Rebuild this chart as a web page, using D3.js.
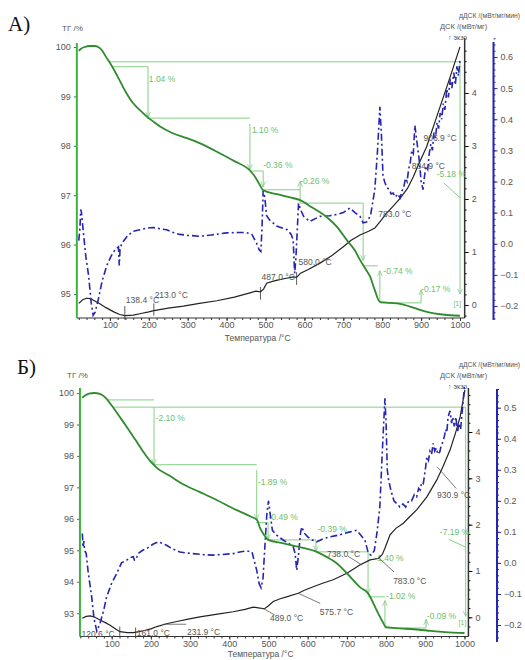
<!DOCTYPE html>
<html>
<head>
<meta charset="utf-8">
<script src="https://cdn.jsdelivr.net/npm/d3@7"></script>
<style>
  body { margin: 0; background: #fff; }
  text { font-family: "Liberation Sans", Arial, sans-serif; }
</style>
</head>
<body>
<div id="chart"></div>
<script>
// ---- data: [temperature °C, value] ----
var tempTicks = [100, 200, 300, 400, 500, 600, 700, 800, 900, 1000];

// panel А
var tgA = [[20,99.92],[25,99.96],[35,100.0],[50,100.02],[60,100.02],[70,100.0],[80,99.93],[90,99.8],[100,99.68],[120,99.4],[140,99.1],[160,98.86],[180,98.7],[195,98.59],[210,98.5],[229,98.39],[260,98.26],[300,98.15],[332,98.05],[380,97.86],[420,97.69],[460,97.5],[475,97.35],[486,97.2],[494,97.1],[530,97.02],[560,96.96],[589,96.9],[620,96.75],[657,96.56],[685,96.35],[709,96.09],[730,95.88],[743,95.69],[760,95.47],[769,95.35],[780,95.1],[794,94.84],[820,94.82],[846,94.8],[870,94.75],[897,94.68],[920,94.63],[949,94.59],[975,94.57],[1000,94.56]];
var dscA = [[20,0.03],[30,0.10],[40,0.127],[50,0.12],[60,0.08],[75,0.02],[90,-0.05],[110,-0.13],[125,-0.18],[139,-0.2],[160,-0.19],[180,-0.16],[200,-0.13],[213,-0.107],[250,-0.06],[289,-0.02],[330,0.03],[375,0.08],[420,0.15],[460,0.23],[475,0.26],[487,0.25],[495,0.3],[503,0.41],[520,0.45],[550,0.5],[571,0.53],[580,0.52],[590,0.6],[610,0.67],[640,0.79],[670,0.93],[700,1.1],[720,1.22],[743,1.32],[765,1.39],[781,1.45],[795,1.58],[811,1.73],[830,1.88],[846,2.01],[865,2.2],[880,2.42],[895,2.68],[914,2.98],[940,3.55],[970,4.2],[1000,4.87]];
var ddscA = [[20,0.01],[23,0.05],[25,0.11],[27,0.10],[30,0.06],[38,-0.04],[45,-0.10],[52,-0.19],[57,-0.23],[62,-0.22],[70,-0.18],[80,-0.12],[92,-0.07],[103,-0.04],[113,-0.02],[122,-0.01],[124,-0.07],[126,-0.02],[130,0.0],[145,0.025],[160,0.04],[177,0.045],[195,0.05],[211,0.052],[230,0.048],[246,0.045],[265,0.035],[280,0.03],[300,0.027],[332,0.024],[360,0.028],[400,0.035],[430,0.036],[451,0.036],[465,0.03],[477,0.002],[484,-0.02],[488,-0.025],[491,0.05],[494,0.17],[498,0.15],[503,0.09],[510,0.077],[530,0.056],[556,0.045],[566,0.03],[571,0.013],[575,-0.095],[578,-0.05],[585,0.13],[590,0.11],[598,0.088],[614,0.072],[640,0.088],[665,0.09],[683,0.094],[700,0.10],[717,0.115],[730,0.10],[743,0.088],[751,0.067],[760,0.07],[770,0.09],[781,0.174],[788,0.30],[794,0.44],[798,0.35],[802,0.22],[806,0.2],[812,0.18],[818,0.175],[823,0.16],[828,0.163],[834,0.15],[840,0.16],[846,0.147],[851,0.17],[855,0.18],[860,0.21],[864,0.2],[868,0.24],[872,0.26],[876,0.3],[880,0.29],[884,0.38],[888,0.34],[892,0.3],[896,0.26],[900,0.2],[905,0.174],[909,0.22],[913,0.25],[917,0.24],[921,0.29],[925,0.32],[929,0.3],[933,0.357],[937,0.34],[941,0.39],[945,0.37],[949,0.42],[953,0.4],[957,0.45],[961,0.43],[966,0.497],[970,0.47],[975,0.53],[979,0.5],[984,0.55],[988,0.51],[992,0.57],[996,0.54],[1000,0.59]];

// panel Б
var tgB = [[25,99.85],[32,99.92],[42,99.98],[55,100.0],[70,99.97],[86,99.83],[100,99.6],[120,99.25],[138,98.93],[160,98.52],[180,98.14],[198,97.84],[215,97.62],[249,97.36],[282,97.1],[325,96.85],[369,96.59],[410,96.33],[453,96.08],[471,95.96],[478,95.72],[488,95.5],[499,95.33],[538,95.22],[580,95.1],[623,94.95],[648,94.79],[674,94.59],[700,94.27],[733,93.83],[754,93.63],[776,93.09],[790,92.75],[800,92.56],[835,92.52],[870,92.49],[904,92.45],[950,92.4],[1000,92.37]];
var dscB = [[25,-0.02],[35,0.02],[45,0.03],[55,0.01],[70,-0.06],[85,-0.12],[96,-0.17],[110,-0.25],[121,-0.31],[140,-0.33],[155,-0.33],[170,-0.31],[181,-0.29],[200,-0.25],[215,-0.2],[240,-0.14],[266,-0.09],[295,-0.04],[325,0.01],[370,0.07],[410,0.12],[440,0.17],[461,0.22],[478,0.2],[489,0.18],[500,0.25],[512,0.34],[530,0.4],[546,0.44],[576,0.52],[590,0.58],[614,0.66],[640,0.74],[665,0.81],[700,0.95],[733,1.13],[759,1.24],[780,1.27],[790,1.35],[797,1.49],[810,1.78],[825,1.92],[844,2.03],[860,2.17],[878,2.32],[904,2.6],[929,2.96],[945,3.25],[963,3.61],[976,3.95],[989,4.33],[1001,4.91]];
var ddscB = [[25,0.095],[27,0.05],[29,0.07],[31,0.04],[35,0.03],[40,-0.03],[49,-0.11],[55,-0.18],[62,-0.22],[70,-0.196],[80,-0.15],[87,-0.11],[100,-0.065],[113,-0.034],[125,0.0],[138,0.009],[150,0.018],[155,0.02],[158,0.009],[162,0.01],[167,0.03],[178,0.04],[189,0.046],[205,0.06],[219,0.068],[230,0.062],[240,0.057],[255,0.045],[274,0.035],[290,0.032],[308,0.03],[330,0.027],[359,0.025],[380,0.027],[410,0.03],[430,0.036],[444,0.039],[458,0.035],[463,0.01],[470,-0.024],[476,-0.066],[481,-0.08],[486,-0.05],[492,0.08],[496,0.16],[500,0.2],[504,0.16],[510,0.105],[520,0.09],[538,0.073],[555,0.06],[563,0.052],[568,0.03],[572,-0.024],[576,0.02],[582,0.1],[585,0.116],[592,0.095],[600,0.084],[610,0.075],[623,0.068],[640,0.078],[657,0.084],[680,0.09],[708,0.1],[725,0.105],[735,0.09],[746,0.073],[755,0.03],[762,0.025],[770,0.04],[777,0.1],[784,0.18],[790,0.35],[797,0.53],[800,0.45],[803,0.3],[806,0.27],[812,0.235],[820,0.2],[828,0.19],[835,0.18],[843,0.19],[850,0.18],[858,0.2],[865,0.2],[872,0.22],[878,0.213],[883,0.24],[887,0.235],[891,0.26],[895,0.256],[900,0.3],[904,0.342],[908,0.33],[912,0.36],[916,0.35],[920,0.385],[924,0.36],[928,0.37],[932,0.35],[937,0.358],[941,0.38],[945,0.39],[949,0.41],[952,0.43],[955,0.42],[958,0.47],[963,0.49],[967,0.45],[970,0.47],[974,0.44],[978,0.47],[982,0.42],[986,0.45],[990,0.43],[995,0.5],[1000,0.57]];

// step annotations (TG units): horizontal [t1, t2, tg], vertical [t, tgFrom, tgTo], labels [t, tg, text]
var hLinesA = [[100,1000,99.70],[108,198,99.60],[195,460,98.56],[460,494,97.49],[494,589,97.11],[589,751,96.84],[751,789,95.57],[794,900,94.82]];
var vLinesA = [[198,99.60,98.58],[460,98.44,97.52],[494,97.49,97.17],[589,96.84,97.28],[751,96.84,95.68],[794,94.84,95.47],[900,94.82,95.08],[1000,99.70,95.0]];
var stepLabelsA = [[200,99.30,"1.04 %"],[465,98.26,"1.10 %"],[494,97.56,"-0.36 %"],[589,97.22,"-0.26 %"],[803,95.4,"-0.74 %"],[900,95.05,"-0.17 %"],[940,97.36,"-5.18 %"],[983,94.76,"[1]"]];
var hLinesB = [[88,208,99.78],[103,1004,99.55],[208,470,97.72],[468,499,95.88],[499,621,95.33],[621,754,94.95],[754,797,93.52],[797,902,92.53]];
var vLinesB = [[208,99.55,97.74],[470,97.55,95.98],[499,95.88,95.35],[621,95.33,94.97],[754,94.95,93.62],[797,92.53,93.4],[902,92.53,92.8],[1003,99.55,92.9]];
var stepLabelsB = [[212,99.12,"-2.10 %"],[473,97.06,"-1.89 %"],[500,95.97,"-0.49 %"],[625,95.57,"-0.39 %"],[770,94.66,"-1.40 %"],[800,93.45,"-1.02 %"],[904,92.82,"-0.09 %"],[937,95.5,"-7.19 %"],[985,92.64,"[1]"]];

// peak labels on the DSC curve: [t, dsc, text]
var peakLabelsA = [[141,0.04,"138.4 °C"],[215,0.13,"213.0 °C"],[490,0.47,"487.0 °C"],[585,0.75,"580.0 °C"],[790,1.66,"783.0 °C"],[876,2.57,"884.9 °C"],[906,3.1,"906.9 °C"]];
var peakTicksA = [[138.4,-0.28,-0.02],[213,-0.2,0.03],[487,0.1,0.34],[580,0.38,0.62]];
var peakLabelsB = [[23,-0.42,"120.6 °C"],[164,-0.41,"161.0 °C"],[292,-0.39,"231.9 °C"],[504,-0.07,"489.0 °C"],[631,0.06,"575.7 °C"],[649,1.3,"738.0 °C"],[818,0.72,"783.0 °C"],[930,2.58,"930.9 °C"]];
var pointersB = [[232,-0.15,290,-0.15],[489,0.18,516,0.05],[575.7,0.52,632,0.3],[703,1.32,738,1.13],[783,1.27,820,0.98],[930,3.25,979,2.78]];

var W = 525, H = 660;
var svg = d3.select("#chart").append("svg").attr("width", W).attr("height", H);

var defs = svg.append("defs");
defs.append("marker").attr("id", "arr").attr("viewBox", "0 0 10 10")
  .attr("refX", 9).attr("refY", 5).attr("markerWidth", 6).attr("markerHeight", 6)
  .attr("orient", "auto-start-reverse")
  .append("path").attr("d", "M0,1L9,5L0,9").attr("fill", "none").attr("stroke", "#7cc77c").attr("stroke-width", 1.2);

var GREEN = "#2e8b2e", LGREEN = "#86cf86", TGREEN = "#6cbf6c", BLUE = "#2525b0";

function panel(c) {
  var g = svg.append("g");
  var x = d3.scaleLinear().domain([0, 1000]).range(c.xr);
  var yT = d3.scaleLinear().domain(c.tgDom).range(c.tgR);
  var yD = d3.scaleLinear().domain([0, 4]).range(c.dscR);
  var yB = d3.scaleLinear().domain(c.bDom).range(c.bR);
  var xl = x(c.tMin), xr = x(c.tMax);

  // x axis
  var xa = g.append("g").attr("transform", "translate(0," + c.bottom + ")");
  xa.append("line").attr("x1", xl).attr("x2", xr).attr("stroke", "#333").attr("stroke-width", 1.2);
  xa.call(d3.axisBottom(x).tickValues(d3.range(20, 1001, 20)).tickSize(2).tickFormat(""));
  xa.append("g").call(d3.axisBottom(x).tickValues(tempTicks).tickSize(3).tickPadding(1).tickFormat(d3.format("d")));
  xa.selectAll(".domain").remove();
  xa.selectAll("line").attr("stroke", "#333");
  xa.selectAll("text").attr("fill", "#555").style("font-size", "9px");
  g.append("text").attr("x", x(480)).attr("y", c.xTitleY).attr("text-anchor", "middle")
    .attr("fill", "#555").style("font-size", "8.5px").text("Температура /°C");

  // TG axis (left)
  var la = g.append("g").attr("transform", "translate(" + xl + ",0)")
    .call(d3.axisLeft(yT).tickValues(c.tgTicks).tickSize(3).tickPadding(3).tickFormat(d3.format("d")));
  la.select(".domain").remove();
  la.append("line").attr("y1", c.top).attr("y2", c.bottom).attr("stroke", "#3cb43c").attr("stroke-width", 2);
  la.selectAll(".tick line").attr("stroke", "#666");
  la.selectAll("text").attr("fill", "#555").style("font-size", "9px");
  g.append("text").attr("x", c.tgTitle[0]).attr("y", c.tgTitle[1]).attr("fill", "#555").style("font-size", "8px").text("ТГ /%");

  // DSC axis (right, black)
  var ra = g.append("g").attr("transform", "translate(" + xr + ",0)");
  ra.call(d3.axisRight(yD).tickValues(d3.range(-0.2, 4.81, 0.2)).tickSize(2).tickFormat(""));
  ra.append("g").call(d3.axisRight(yD).tickValues([0, 1, 2, 3, 4]).tickSize(4).tickPadding(3).tickFormat(d3.format("d")));
  ra.selectAll(".domain").remove();
  ra.append("line").attr("y1", c.rTop).attr("y2", c.bottom).attr("stroke", "#333").attr("stroke-width", 1.5);
  ra.selectAll("text").attr("fill", "#555").style("font-size", "9px");

  // dDSC axis (far right, blue)
  var ba = g.append("g").attr("transform", "translate(" + c.bX + ",0)");
  ba.call(d3.axisRight(yB).tickValues(d3.range(c.bDom[0] - 0.04, c.bDom[1] + 0.07, 0.02)).tickSize(2).tickFormat(""));
  ba.append("g").call(d3.axisRight(yB).tickValues(c.bTicks).tickSize(4).tickPadding(3).tickFormat(d3.format(".1f")));
  ba.selectAll(".domain").remove();
  ba.selectAll("line").attr("stroke", BLUE);
  ba.append("line").attr("y1", c.bTop).attr("y2", c.bBottom).attr("stroke", BLUE).attr("stroke-width", 2);
  ba.selectAll("text").attr("fill", "#555").style("font-size", "9px");

  g.append("text").attr("x", c.hdr[0]).attr("y", c.hdr[1]).attr("fill", "#555").style("font-size", "6.8px").text("дДСК /(мВт/мг/мин)");
  g.append("text").attr("x", c.hdr[0] - 19).attr("y", c.hdr[1] + 11).attr("fill", "#555").style("font-size", "7.5px").text("ДСК /(мВт/мг)");
  g.append("text").attr("x", c.hdr[0] - 11).attr("y", c.hdr[1] + 22).attr("fill", "#555").style("font-size", "7px").text("↑ экзо");

  g.append("text").attr("x", c.letter[0]).attr("y", c.letter[1]).attr("fill", "#111")
    .style("font-family", "'Liberation Serif', serif").style("font-size", "21px").text(c.name);

  // step reference lines
  var sg = g.append("g").attr("stroke", LGREEN).attr("stroke-width", 1).attr("fill", "none");
  c.hLines.forEach(function (h) {
    sg.append("line").attr("x1", x(h[0])).attr("x2", x(h[1])).attr("y1", yT(h[2])).attr("y2", yT(h[2]));
  });
  c.vLines.forEach(function (v) {
    sg.append("line").attr("x1", x(v[0])).attr("x2", x(v[0])).attr("y1", yT(v[1])).attr("y2", yT(v[2]))
      .attr("marker-end", "url(#arr)");
  });
  c.pointer.forEach(function (p) {
    sg.append("line").attr("x1", x(p[0])).attr("y1", yT(p[1])).attr("x2", x(p[2])).attr("y2", yT(p[3]));
  });
  c.stepLabels.forEach(function (s) {
    g.append("text").attr("x", x(s[0])).attr("y", yT(s[1])).attr("fill", TGREEN)
      .style("font-size", s[2] === "[1]" ? "7px" : "8.5px").text(s[2]);
  });

  // curves
  var line = function (ys) {
    return d3.line().x(function (d) { return x(d[0]); }).y(function (d) { return ys(d[1]); });
  };
  g.append("path").datum(c.dscData).attr("d", line(yD)).attr("fill", "none").attr("stroke", "#222").attr("stroke-width", 1.2);
  g.append("path").datum(c.ddscData).attr("d", line(yB)).attr("fill", "none").attr("stroke", BLUE)
    .attr("stroke-width", 1.6).attr("stroke-dasharray", "7,3,2,3");
  g.append("path").datum(c.tgData).attr("d", line(yT).curve(d3.curveMonotoneX)).attr("fill", "none")
    .attr("stroke", GREEN).attr("stroke-width", 1.8);

  // peak markers on DSC
  c.peakTicks.forEach(function (p) {
    g.append("line").attr("x1", x(p[0])).attr("x2", x(p[0])).attr("y1", yD(p[1])).attr("y2", yD(p[2]))
      .attr("stroke", "#333").attr("stroke-width", 0.8);
  });
  c.pointers.forEach(function (p) {
    g.append("line").attr("x1", x(p[0])).attr("y1", yD(p[1])).attr("x2", x(p[2])).attr("y2", yD(p[3]))
      .attr("stroke", "#555").attr("stroke-width", 0.8);
  });
  c.peakLabels.forEach(function (p) {
    g.append("text").attr("x", x(p[0])).attr("y", yD(p[1])).attr("fill", "#555").style("font-size", "8.5px").text(p[2]);
  });
}

panel({
  name: "А)", letter: [8, 31], xr: [71, 460], tMin: 15, tMax: 1012, top: 43, rTop: 38, bottom: 318, xTitleY: 341,
  tgDom: [95, 100], tgR: [294, 47], tgTicks: [95, 96, 97, 98, 99, 100], tgTitle: [62, 31],
  dscR: [305, 93], bDom: [-0.2, 0.6], bR: [306, 57], bTicks: [-0.2, -0.1, 0, 0.1, 0.2, 0.3, 0.4, 0.5, 0.6],
  bX: 493.5, bTop: 42, bBottom: 320, hdr: [459, 18],
  tgData: tgA, dscData: dscA, ddscData: ddscA,
  hLines: hLinesA, vLines: vLinesA, stepLabels: stepLabelsA, pointer: [[958,97.25,1000,96.95]],
  peakLabels: peakLabelsA, peakTicks: peakTicksA, pointers: []
});

panel({
  name: "Б)", letter: [17, 374], xr: [72.5, 464.5], tMin: 19, tMax: 1010, top: 388, rTop: 388, bottom: 636.5, xTitleY: 657,
  tgDom: [93, 100], tgR: [613.2, 393], tgTicks: [93, 94, 95, 96, 97, 98, 99, 100], tgTitle: [67, 378],
  dscR: [617.3, 432], bDom: [-0.2, 0.5], bR: [625, 407.7], bTicks: [-0.2, -0.1, 0, 0.1, 0.2, 0.3, 0.4, 0.5],
  bX: 497, bTop: 389, bBottom: 642, hdr: [459, 367],
  tgData: tgB, dscData: dscB, ddscData: ddscB,
  hLines: hLinesB, vLines: vLinesB, stepLabels: stepLabelsB, pointer: [[960,95.35,1003,95.1]],
  peakLabels: peakLabelsB, peakTicks: [[120.6,-0.42,-0.2],[161,-0.42,-0.22]], pointers: pointersB
});
</script>
</body>
</html>
